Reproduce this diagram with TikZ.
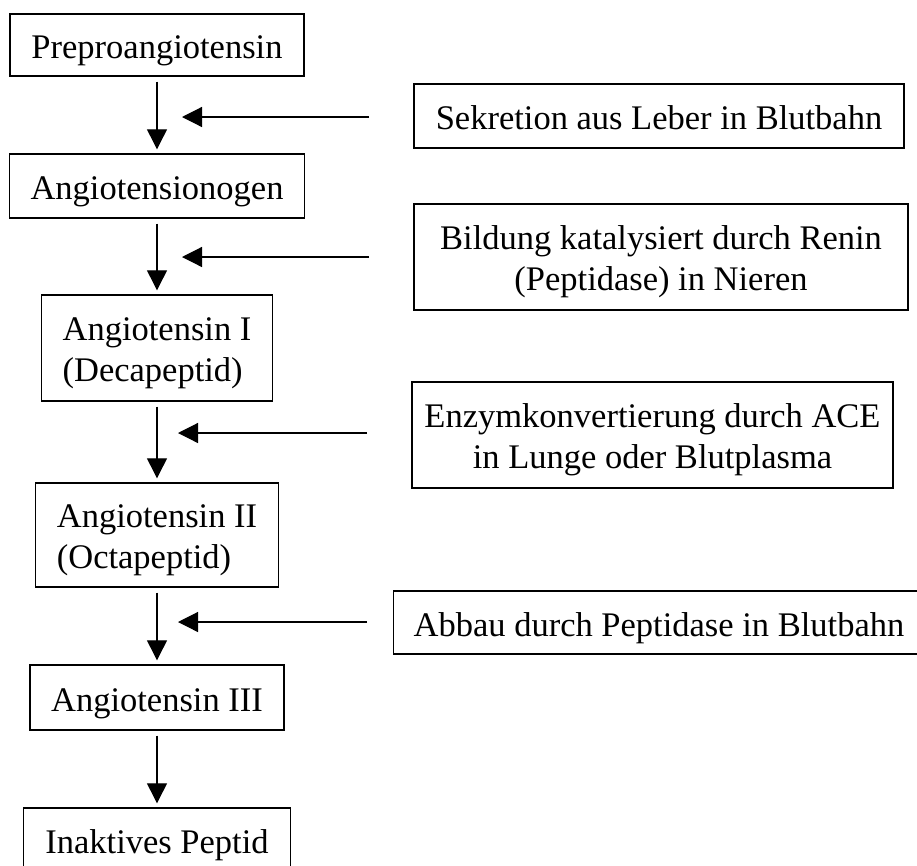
\documentclass[tikz,border=0pt]{standalone}
\usepackage{fontspec}
\setmainfont{Liberation Serif}
\usetikzlibrary{shapes,arrows.meta,positioning}
\tikzstyle{Block} = [draw, rectangle, line width=1.4pt, inner sep=0pt, text height=27pt, text depth=0pt, align=left]
\tikzstyle{Note} = [draw, rectangle, line width=1.4pt, inner sep=0pt, text height=27pt, text depth=0pt, align=center]
\tikzstyle{TwoLine} = [text height=67pt, text depth=0pt]
\tikzstyle{Flow} = [line width=1.2pt, -{Triangle[length=20pt,width=20pt]}]

\begin{document}
\begin{tikzpicture}[x=1pt, y=-1pt, font=\fontsize{34.5}{41}\selectfont]
    \useasboundingbox (0,0) rectangle (917,865);
    % main chain
    \node[Block, minimum width=294pt, minimum height=62pt]  (pre)   at (157,45)    {Preproangiotensin};
    \node[Block, minimum width=295pt, minimum height=64pt]  (ango)  at (157,186)   {Angiotensionogen};
    \node[Block, TwoLine, minimum width=231pt, minimum height=106pt] (ang1) at (157,348) {Angiotensin I\\(Decapeptid)};
    \node[Block, TwoLine, minimum width=243pt, minimum height=104pt] (ang2) at (157,535) {Angiotensin II\\(Octapeptid)};
    \node[Block, minimum width=254pt, minimum height=65pt]  (ang3)  at (157,697.5) {Angiotensin III};
    \node[Block, minimum width=267pt, minimum height=64pt]  (inakt) at (157,840)   {Inaktives Peptid};
    % steps
    \node[Note, minimum width=490pt, minimum height=64pt]  (sekr)  at (659,116)   {Sekretion aus Leber in Blutbahn};
    \node[Note, TwoLine, minimum width=494pt, minimum height=106pt] (bild)  at (661,257)   {Bildung katalysiert durch Renin\\(Peptidase) in Nieren};
    \node[Note, TwoLine, minimum width=481pt, minimum height=106pt] (enzym) at (652.5,435) {Enzymkonvertierung durch ACE\\in Lunge oder Blutplasma};
    \node[Note, anchor=west, inner xsep=20pt, minimum height=63pt] (abbau) at (393,622.5) {\makebox[520pt][l]{Abbau durch Peptidase in Blutbahn}};
    \coordinate (s1) at (369,117);  \coordinate (t1) at (182,117);
    \coordinate (s2) at (369,257);  \coordinate (t2) at (182,257);
    \coordinate (s3) at (367,433);  \coordinate (t3) at (178,433);
    \coordinate (s4) at (367,622);  \coordinate (t4) at (178,622);
    \draw[Flow, shorten <=5pt, shorten >=4pt] (pre)  to (ango);
    \draw[Flow, shorten <=5pt, shorten >=4pt] (ango) to (ang1);
    \draw[Flow, shorten <=5pt, shorten >=4pt] (ang1) to (ang2);
    \draw[Flow, shorten <=5pt, shorten >=4pt] (ang2) to (ang3);
    \draw[Flow, shorten <=5pt, shorten >=4pt] (ang3) to (inakt);
    \draw[Flow] (s1) to (t1);
    \draw[Flow] (s2) to (t2);
    \draw[Flow] (s3) to (t3);
    \draw[Flow] (s4) to (t4);
  \end{tikzpicture}
\end{document}
